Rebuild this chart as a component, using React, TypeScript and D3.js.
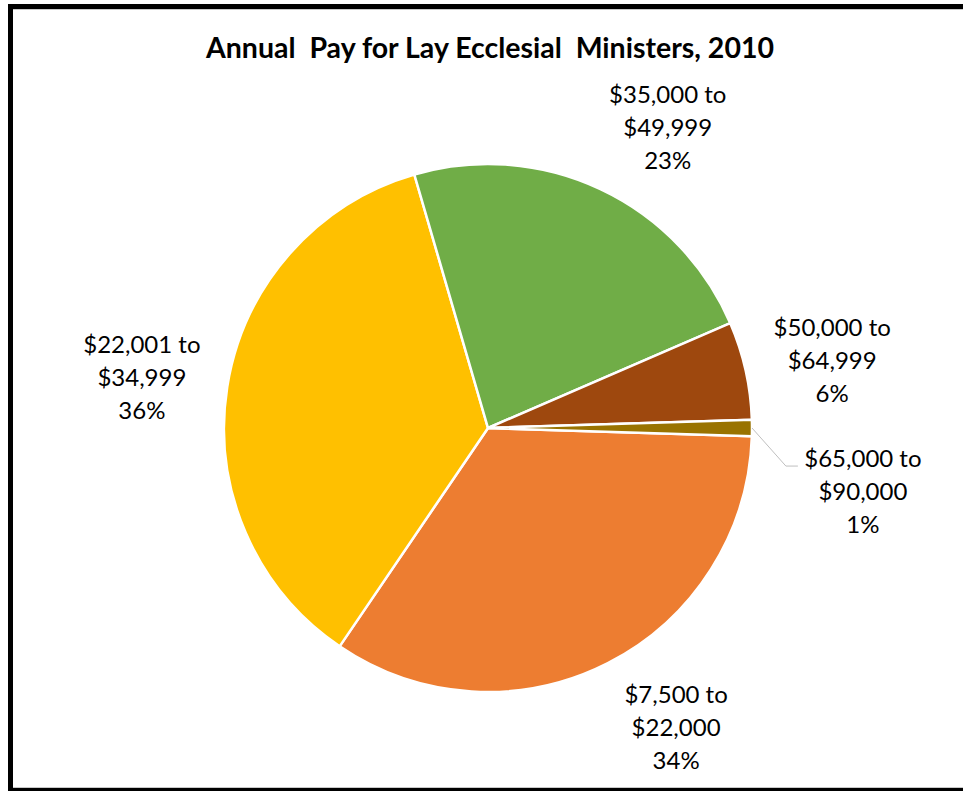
import React from 'react';
import * as d3 from 'd3';

// pay bands, clockwise from just below 3 o'clock
const bands = ['$7,500 to|$22,000', '$22,001 to|$34,999', '$35,000 to|$49,999', '$50,000 to|$64,999', '$65,000 to|$90,000'];
const shares = [34, 36, 23, 6, 1];
const colors = ['#ED7D31', '#FFC000', '#70AD47', '#9E480E', '#997300'];

// label placement: angle nudge (deg) and radius, Excel "best fit" style
const labelNudge = [-5.2, -0.5, 5.6, 1.3, 9.4];
const labelRadius = [353, 350, 351, 351, 380];

const W = 963;
const H = 791;
const cx = 488;
const cy = 428;
const R = 264;
const startDeg = 91.8;

export default function App() {
  const pie = d3.pie<number>()
    .sort(null)
    .value(d => d)
    .startAngle((startDeg * Math.PI) / 180)
    .endAngle(((startDeg + 360) * Math.PI) / 180);
  const arcs = pie(shares);
  const arc = d3.arc<d3.PieArcDatum<number>>().innerRadius(0).outerRadius(R);

  const polar = (angle: number, r: number) => [Math.sin(angle) * r, -Math.cos(angle) * r];

  const lineH = 33;
  const font = 'Lato, "Open Sans", sans-serif';

  return (
    <svg width={W} height={H} style={{ position: 'absolute', left: 0, top: 0 }} fontFamily={font}>
      <rect x={0} y={0} width={W} height={H} fill="#fff" />
      {/* frame: left, top and bottom only, the right side is cropped off */}
      <path d={`M${W},6.5 H10.5 V789.5 H${W}`} fill="none" stroke="#000" strokeWidth={5} />
      <line x1={13} x2={W} y1={9.5} y2={9.5} stroke="#c8c8c8" strokeWidth={1} />
      <line x1={13} x2={W} y1={787.5} y2={787.5} stroke="#c8c8c8" strokeWidth={1} />
      <text x={490} y={58} textAnchor="middle" fontSize={28.5} fontWeight="bold" fill="#000" style={{ whiteSpace: 'pre' }}>
        Annual  Pay for Lay Ecclesial  Ministers, 2010
      </text>
      <g transform={`translate(${cx},${cy})`}>
        {arcs.map((a, i) => (
          <path key={i} d={arc(a) || ''} fill={colors[i]} stroke="#fff" strokeWidth={2.5} />
        ))}
        {arcs.map((a, i) => {
          const mid = (a.startAngle + a.endAngle) / 2;
          const ang = mid + (labelNudge[i] * Math.PI) / 180;
          const [lx, ly] = polar(ang, labelRadius[i]);
          const lines = [...bands[i].split('|'), `${shares[i]}%`];
          const top = ly - lineH;
          let leader = null;
          if (i === 4) {
            const [px, py] = polar(mid, R);
            const ey = top + 9;
            const ex = lx - 65;
            leader = (
              <polyline points={`${px},${py} ${ex - 12},${ey} ${ex},${ey}`} fill="none" stroke="#bfbfbf" strokeWidth={1} />
            );
          }
          return (
            <g key={'l' + i}>
              {leader}
              {lines.map((t, j) => (
                <text key={j} x={lx} y={top + j * lineH} textAnchor="middle" dominantBaseline="central" fontSize={24} fill="#000">
                  {t}
                </text>
              ))}
            </g>
          );
        })}
      </g>
    </svg>
  );
}
